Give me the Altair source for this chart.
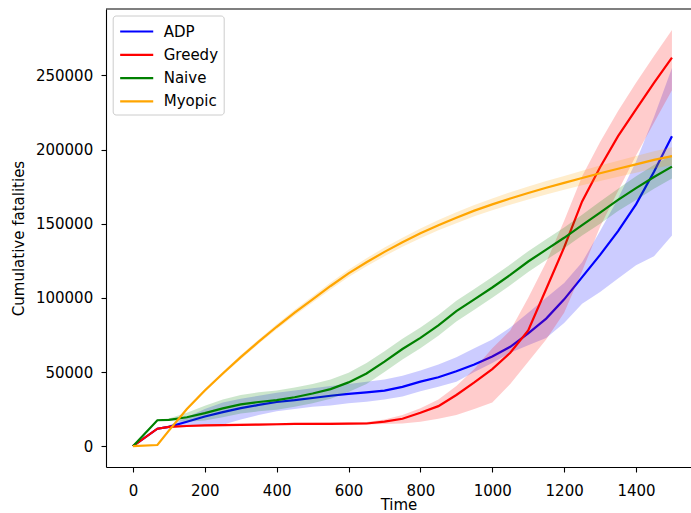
import altair as alt
import pandas as pd

# time grid
T = [0, 68, 100, 150, 200, 250, 300, 350, 400, 450, 500, 550, 600, 650, 700, 750,
     800, 850, 900, 950, 1000, 1050, 1100, 1150, 1200, 1250, 1300, 1350, 1400, 1450, 1500]

SERIES = ["ADP", "Greedy", "Naive", "Myopic"]
COLORS = ["#0000ff", "#ff0000", "#008000", "#ffa500"]

ADP_MEAN = [0, 11800, 13000, 16500, 20000, 23000, 25700, 27800, 29800, 31000, 32500, 34000, 35300, 36300, 37500, 40000,
            43500, 46500, 50500, 55000, 60500, 67000, 76000, 86000, 99000, 114000, 129000, 145000, 163000, 185000, 209000]
ADP_LO = [0, 11000, 12300, 13500, 14000, 14500, 18000, 21000, 23500, 25000, 26500, 27500, 29000, 30000, 31500, 33500,
          37000, 40000, 43500, 50000, 56000, 63000, 68000, 73000, 83000, 96000, 104000, 113000, 122000, 128000, 142000]
ADP_HI = [0, 12500, 14000, 19500, 25000, 29500, 32000, 34000, 36000, 37500, 39000, 40500, 42000, 43500, 45000, 47500,
          51000, 55000, 60000, 66000, 72000, 80000, 90000, 100000, 110000, 124000, 145000, 167000, 192000, 222000, 255000]

GREEDY_MEAN = [0, 11800, 13000, 13600, 14000, 14200, 14400, 14600, 14800, 15000, 15000, 15100, 15200, 15300, 16500, 18500,
               22500, 27000, 34500, 43000, 52000, 63000, 78000, 106000, 134000, 165000, 188000, 209000, 227000, 245000, 262000]
GREEDY_LO = [0, 11000, 12300, 13000, 13300, 13500, 13700, 13900, 14000, 14200, 14300, 14400, 14500, 14600, 15000, 15300,
             16500, 18500, 21000, 25000, 29500, 42000, 57000, 72000, 90000, 118000, 148000, 172000, 196000, 218000, 240000]
GREEDY_HI = [0, 12500, 13700, 14200, 14700, 14900, 15100, 15300, 15500, 15700, 15800, 15900, 16000, 16300, 18000, 21000,
             25500, 31500, 40500, 52000, 66000, 78000, 100000, 124000, 152000, 182000, 205000, 226000, 245000, 263000, 280500]

NAIVE_MEAN = [0, 17500, 17800, 19500, 22300, 25500, 28200, 29800, 31000, 33000, 35500, 38500, 43000, 49000, 57000, 65500,
              73000, 81500, 91000, 99000, 107000, 115500, 124500, 132500, 140500, 149000, 157500, 166000, 174000, 181500, 188500]
NAIVE_LO = [0, 17000, 17000, 16500, 17300, 19500, 22000, 23500, 24500, 26500, 29000, 32000, 36500, 42000, 50000, 58500,
            66000, 74500, 84000, 92000, 100000, 108500, 117500, 125500, 133500, 142000, 150000, 158500, 166000, 173500, 180500]
NAIVE_HI = [0, 18000, 18600, 22500, 27300, 31500, 34500, 36300, 37500, 39500, 42000, 45000, 49500, 56000, 64000, 72500,
            80000, 88500, 98000, 106000, 114000, 122500, 131500, 139500, 147500, 156000, 165000, 173500, 182000, 189500, 196500]

MYOPIC_MEAN = [0, 800, 10500, 25000, 37500, 49000, 60000, 70500, 80500, 90000, 99000, 108000, 116500, 124000, 131000, 137500,
               143500, 149000, 154000, 158800, 163000, 167000, 170700, 174200, 177500, 180800, 184000, 187000, 190000, 193000, 195500]
MYOPIC_LO = [0, 700, 10000, 24200, 36500, 47800, 58600, 69000, 78800, 88100, 96900, 105700, 114000, 121300, 128100, 134400,
             140200, 145500, 150300, 155000, 159000, 162800, 166300, 169600, 172800, 175900, 178800, 181600, 184400, 187200, 189500]
MYOPIC_HI = [0, 900, 11000, 25800, 38500, 50200, 61400, 72000, 82200, 91900, 101100, 110300, 119000, 126700, 133900, 140600,
             146800, 152500, 157700, 162600, 167000, 171200, 175100, 178800, 182200, 185700, 189200, 192400, 195600, 198800, 201500]

X_TICKS = [0, 200, 400, 600, 800, 1000, 1200, 1400]
Y_TICKS = [0, 50000, 100000, 150000, 200000, 250000]

DATA = {
    "ADP": (ADP_MEAN, ADP_LO, ADP_HI),
    "Greedy": (GREEDY_MEAN, GREEDY_LO, GREEDY_HI),
    "Naive": (NAIVE_MEAN, NAIVE_LO, NAIVE_HI),
    "Myopic": (MYOPIC_MEAN, MYOPIC_LO, MYOPIC_HI),
}

rows = []
for name in SERIES:
    m, lo, hi = DATA[name]
    for t, a, b, c in zip(T, m, lo, hi):
        rows.append({"t": t, "series": name, "mean": a, "lo": b, "hi": c})
df = pd.DataFrame(rows)

W, H = 585, 458
FONT = "DejaVu Sans"

xs = alt.Scale(domain=[-75, 1553], nice=False, zero=False)
ys = alt.Scale(domain=[-14035, 294735], nice=False, zero=False)
cs = alt.Scale(domain=SERIES, range=COLORS)

xaxis = alt.Axis(values=X_TICKS, format="d", title="Time", grid=False, labelFont=FONT, titleFont=FONT,
                 labelFontSize=15, titleFontSize=15, titleFontWeight="normal",
                 labelColor="black", titleColor="black", tickColor="black", domainColor="black",
                 tickSize=5, tickWidth=1.1, domainWidth=1.1, labelPadding=23,
                 labelBaseline="alphabetic", labelFlush=False, labelOverlap=False,
                 titleY=42, titleBaseline="alphabetic")
yaxis = alt.Axis(values=Y_TICKS, format="d", title="Cumulative fatalities", grid=False,
                 labelFont=FONT, titleFont=FONT, labelFontSize=15, titleFontSize=15,
                 titleFontWeight="normal", labelColor="black", titleColor="black",
                 tickColor="black", domainColor="black", tickSize=5, tickWidth=1.1,
                 domainWidth=1.1, labelPadding=8.3, labelFlush=False, labelOverlap=False,
                 titleX=-88, titleY=229, titleAngle=270, titleBaseline="middle", titleAlign="center")

legend = alt.Legend(orient="none", legendX=6.7, legendY=6.5, title=None,
                    symbolType="M-1.74,0H1.74", symbolSize=361, symbolStrokeWidth=2.2,
                    symbolOffset=8, labelOffset=16, labelFont=FONT, labelFontSize=15,
                    labelColor="black", padding=5, rowPadding=4.3,
                    strokeColor="#cccccc", cornerRadius=3, fillColor="white",
                    labelExpr="datum.label + ' '")

base = alt.Chart(df)
layers = []
for s in SERIES:
    sub = base.transform_filter(alt.datum.series == s)
    line = sub.mark_line(strokeWidth=2.2, clip=True).encode(
        x=alt.X("t:Q", scale=xs, axis=xaxis),
        y=alt.Y("mean:Q", scale=ys, axis=yaxis),
        color=alt.Color("series:N", scale=cs, legend=legend),
    )
    band = sub.mark_area(opacity=0.2, clip=True).encode(
        x=alt.X("t:Q", scale=xs, axis=xaxis),
        y=alt.Y("lo:Q", scale=ys, axis=yaxis),
        y2="hi:Q",
        color=alt.Color("series:N", scale=cs, legend=None),
    )
    layers += [line, band]

frame = alt.Chart(pd.DataFrame({"k": [0]})).mark_rule(color="black", strokeWidth=1.1).encode(
    x=alt.value(0), x2=alt.value(W), y=alt.value(0)
)
layers.append(frame)

chart = alt.layer(*layers).properties(
    width=W, height=H,
    autosize=alt.AutoSizeParams(type="none"),
    padding={"left": 106, "top": 9, "right": 0, "bottom": 46},
).configure_view(stroke=None)

chart.save("out.html", embed_options={"renderer": "svg", "actions": False})
